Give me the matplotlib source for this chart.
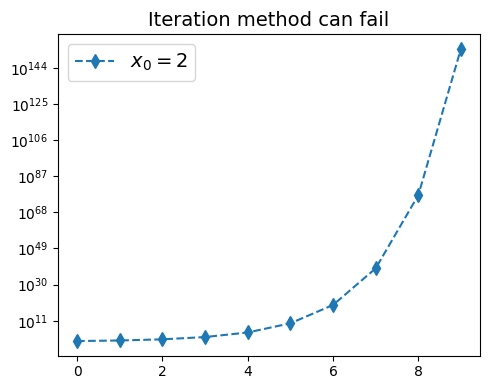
import matplotlib
matplotlib.use("Agg")
import matplotlib.pyplot as plt

n = list(range(10))
x_values = [2.0, 4.0, 16.0, 256.0, 65536.0, 4294967296.0, 1.8446744073709552e19,
            3.402823669209385e38, 1.157920892373162e77, 1.3407807929942597e154]
label = r"$x_0=2$"
title = "Iteration method can fail"

fig, ax = plt.subplots(figsize=(4.9, 3.9), dpi=100)
ax.plot(n, x_values, linestyle="--", marker="d", markersize=7.5, color="#1f77b4", label=label)
ax.set_yscale("log")
ax.set_title(title, fontsize=14)
ax.legend(fontsize=14, loc="upper left")
fig.subplots_adjust(left=0.118, right=0.98, top=0.913, bottom=0.088)
fig.savefig("out.png", dpi=100)
